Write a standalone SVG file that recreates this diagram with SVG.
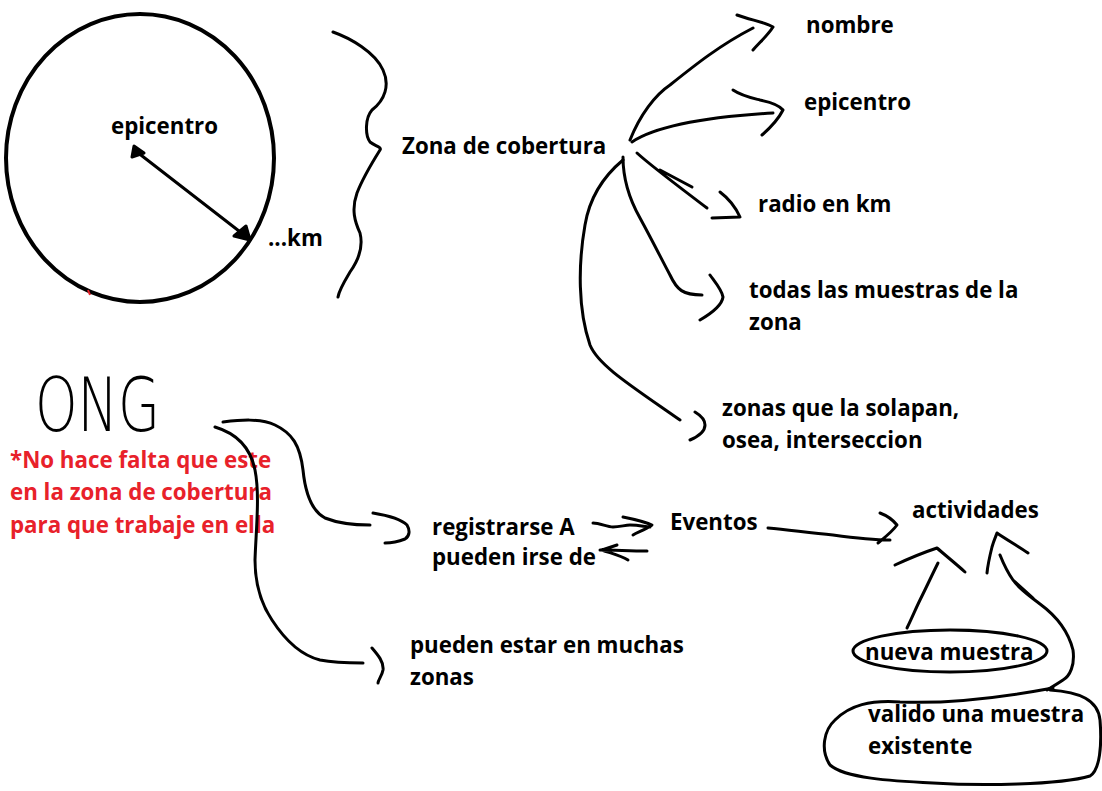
<svg xmlns="http://www.w3.org/2000/svg" width="1102" height="791" viewBox="0 0 1102 791">
<style>
.t{font-family:"Open Sans","Liberation Sans",sans-serif;font-weight:bold;font-size:22.3px;fill:#000}
.r{fill:#e8212a}
.s{fill:none;stroke:#000;stroke-width:3;stroke-linecap:round;stroke-linejoin:round}
.ong{font-family:"DejaVu Sans","Liberation Sans",sans-serif;font-weight:200;font-size:74px;fill:#000}
</style>
<rect width="1102" height="791" fill="#fff"/>
<g id="circle-node">
<ellipse cx="140" cy="158" rx="134" ry="144" class="s" style="stroke-width:4"/>
<path d="M88 290 L90 295" stroke="#e8212a" stroke-width="2"/>
<text class="t" x="111" y="134">epicentro</text>
<text class="t" x="268" y="246">...km</text>
</g>
<g id="zona">
<text class="t" x="402" y="154">Zona de cobertura</text>
</g>
<g id="nombre"><text class="t" x="806" y="33">nombre</text></g>
<g id="epicentro"><text class="t" x="804" y="110">epicentro</text></g>
<g id="radio"><text class="t" x="758" y="212">radio en km</text></g>
<g id="todas"><text class="t" x="749" y="298">todas las muestras de la</text><text class="t" x="749" y="330">zona</text></g>
<g id="zonas"><text class="t" x="722" y="416">zonas que la solapan,</text><text class="t" x="722" y="448">osea, interseccion</text></g>
<g id="ong"><text class="ong" x="35" y="431" textLength="125" lengthAdjust="spacingAndGlyphs">ONG</text></g>
<g id="nota">
<text class="t r" x="10" y="468">*No hace falta que este</text>
<text class="t r" x="10" y="500">en la zona de cobertura</text>
<text class="t r" x="10" y="533">para que trabaje en ella</text>
</g>
<g id="registrarse"><text class="t" x="432" y="535">registrarse A</text><text class="t" x="432" y="565">pueden irse de</text></g>
<g id="eventos"><text class="t" x="670" y="530">Eventos</text></g>
<g id="muchas"><text class="t" x="410" y="653">pueden estar en muchas</text><text class="t" x="410" y="685">zonas</text></g>
<g id="actividades"><text class="t" x="912" y="518">actividades</text></g>
<g id="nueva"><ellipse cx="950" cy="651" rx="97" ry="21" class="s"/><text class="t" x="865" y="660">nueva muestra</text></g>
<g id="valido">
<path class="s" d="M1050 690 C1080 692 1098 700 1100 720 C1102 745 1100 770 1090 776 C1060 785 980 786 933 783 C890 781 845 778 830 765 C820 750 824 730 835 720 C850 705 870 700 900 702 C950 704 1010 696 1053 688"/>
<text class="t" x="868" y="722">valido una muestra</text><text class="t" x="868" y="754">existente</text>
</g>
<g id="connectors">
<path class="s" d="M137 152 L248 238"/>
<path class="s" d="M134 146 L132 157 L144 153 Z M250 240 L234 236 L246 226 Z" style="fill:#000"/>
<path class="s" d="M333 32 C350 38 375 52 383 70 C390 85 385 100 372 110 C365 118 365 135 370 142 C375 146 382 147 380 150 C375 158 362 180 357 193 C351 210 355 222 360 233 C363 245 360 258 350 272 C344 282 339 290 338 297"/>
<path class="s" d="M630 140 C640 115 655 95 670 85 C695 65 720 45 753 28 M737 15 C750 20 765 22 773 27 C768 35 760 42 753 50"/>
<path class="s" d="M632 142 C650 130 690 118 773 113 M733 90 C742 96 752 98 760 100 C770 102 780 106 783 110 C778 120 770 128 762 135"/>
<path class="s" d="M637 153 C650 165 670 180 707 208 M660 170 L692 187 M720 192 C728 198 735 206 740 217 L712 218"/>
<path class="s" d="M623 157 C623 175 627 195 640 218 C652 240 662 260 670 275 C677 290 683 295 702 295 M710 275 C715 282 722 290 723 297 C722 305 712 313 700 320"/>
<path class="s" d="M623 160 C605 175 590 195 585 225 C578 265 578 310 590 345 C598 365 630 385 680 420 M695 412 C700 415 705 420 705 425 C705 432 697 437 690 440"/>
<path class="s" d="M223 422 C240 420 260 418 275 425 C292 433 300 445 303 470 C305 490 310 510 325 518 C340 524 355 525 370 525 M373 513 C385 515 400 518 407 525 C410 530 410 536 405 539 C400 541 393 543 385 543"/>
<path class="s" d="M215 427 C235 433 250 445 255 470 C260 495 256 530 255 560 C255 585 262 605 272 620 C285 640 300 655 320 660 C335 663 350 663 363 663 M372 648 C378 655 384 662 383 670 C382 676 378 680 378 683"/>
<path class="s" d="M593 523 C600 523 607 527 613 527 C620 527 625 525 630 525 C640 525 645 527 650 527 M623 517 C633 519 643 521 652 525 C645 530 638 532 633 535"/>
<path class="s" d="M647 551 C630 551 615 550 600 550 M617 545 C611 547 605 549 602 550 C610 553 620 555 628 560"/>
<path class="s" d="M768 528 C790 530 810 533 833 535 C855 538 870 540 890 540 M880 513 C888 516 893 520 897 525 C892 532 884 538 878 543"/>
<path class="s" d="M907 628 C912 618 916 608 920 600 C926 588 932 575 938 563 M895 565 C910 558 925 552 937 548 C945 555 955 563 965 572"/>
<path class="s" d="M987 573 C988 563 990 555 992 547 C994 540 996 536 997 533 C1007 540 1018 546 1028 553"/>
<path class="s" d="M1000 555 C1004 565 1008 573 1013 580 C1020 590 1030 596 1040 604 C1055 615 1068 630 1073 650 C1075 665 1070 676 1063 680 C1057 684 1052 687 1047 690 M1013 580 L1033 598"/>
</g>
</svg>
